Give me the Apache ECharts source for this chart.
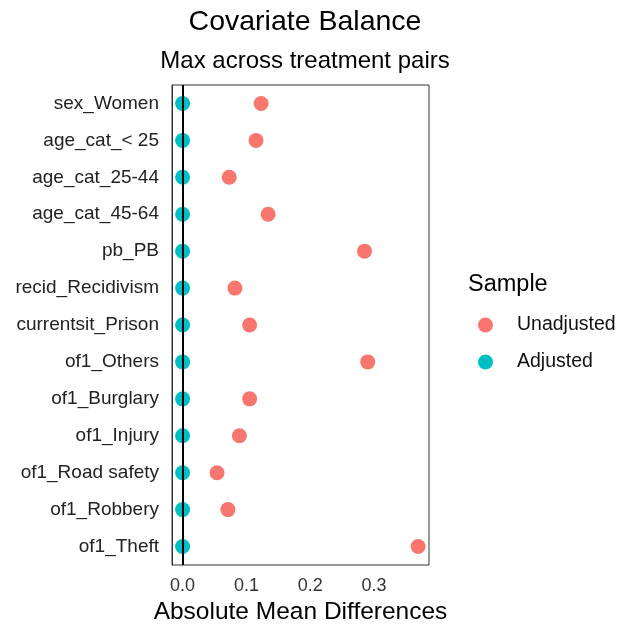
<!DOCTYPE html>
<html>
<head>
<meta charset="utf-8">
<script src="https://cdn.jsdelivr.net/npm/echarts@6/dist/echarts.min.js"></script>
<style>
  html, body { margin: 0; padding: 0; background: #fff; }
  #chart { width: 624px; height: 625px; }
</style>
</head>
<body>
<div id="chart"></div>
<script>
// covariates, top to bottom
var covariates = ['sex_Women', 'age_cat_< 25', 'age_cat_25-44', 'age_cat_45-64', 'pb_PB',
  'recid_Recidivism', 'currentsit_Prison', 'of1_Others', 'of1_Burglary', 'of1_Injury',
  'of1_Road safety', 'of1_Robbery', 'of1_Theft'];
var unadjusted = [0.123, 0.115, 0.073, 0.134, 0.285, 0.082, 0.105, 0.290, 0.105, 0.089, 0.054, 0.071, 0.369];
var adjusted = [0, 0, 0, 0, 0, 0, 0, 0, 0, 0, 0, 0, 0];
var xTicks = [0.0, 0.1, 0.2, 0.3];

var font = 'Liberation Sans, Arial, sans-serif';
var chart = echarts.init(document.getElementById('chart'));

function pairs(vals) {
  return vals.map(function (v, i) { return [v, covariates[i]]; });
}

var option = {
  animation: false,
  title: [
    { text: 'Covariate Balance', left: 300, top: 3, textAlign: 'center',
      textStyle: { fontFamily: font, fontSize: 28.5, fontWeight: 'normal', color: '#000' } },
    { text: 'Max across treatment pairs', left: 300, top: 44, textAlign: 'center',
      textStyle: { fontFamily: font, fontSize: 24, fontWeight: 'normal', color: '#000' } },
    { text: 'Sample', left: 463, top: 268,
      textStyle: { fontFamily: font, fontSize: 23.5, fontWeight: 'normal', color: '#000' } }
  ],
  legend: {
    orient: 'vertical', left: 473, top: 310,
    icon: 'circle', itemWidth: 15, itemHeight: 15, itemGap: 17,
    data: ['Unadjusted', 'Adjusted'],
    textStyle: { fontFamily: font, fontSize: 19.5, color: '#111', padding: [0, 0, 0, 19] }
  },
  grid: {
    left: 172, right: 195, top: 85, bottom: 60,
    outerBoundsMode: 'none',
    show: true, borderColor: '#333', borderWidth: 1
  },
  xAxis: {
    type: 'value', min: -0.0166, max: 0.386,
    axisLabel: {
      customValues: xTicks, fontFamily: font, fontSize: 18, color: '#333', margin: 12,
      formatter: function (v) { return v.toFixed(1); }
    },
    axisTick: { customValues: xTicks, length: 6, lineStyle: { color: '#333' } },
    axisLine: { onZero: false, lineStyle: { color: '#333' } },
    splitLine: { show: false },
    name: 'Absolute Mean Differences', nameLocation: 'middle', nameGap: 34,
    nameTextStyle: { fontFamily: font, fontSize: 24.5, color: '#000' }
  },
  yAxis: {
    type: 'category', data: covariates, inverse: true,
    axisLabel: { fontFamily: font, fontSize: 19, color: '#222', margin: 13 },
    axisTick: { alignWithLabel: true, length: 6, lineStyle: { color: '#333' } },
    axisLine: { onZero: false, lineStyle: { color: '#333' } }
  },
  series: [
    {
      name: 'Unadjusted', type: 'scatter', symbolSize: 15,
      itemStyle: { color: '#F8766D', opacity: 1 },
      data: pairs(unadjusted), z: 2,
      markLine: {
        silent: true, symbol: 'none', label: { show: false },
        lineStyle: { color: '#000', width: 2, type: 'solid' },
        data: [{ xAxis: 0 }]
      }
    },
    {
      name: 'Adjusted', type: 'scatter', symbolSize: 15,
      itemStyle: { color: '#00BFC4', opacity: 1 },
      data: pairs(adjusted), z: 3
    }
  ]
};
chart.setOption(option);
window.onresize = function () { chart.resize(); };
</script>
</body>
</html>
